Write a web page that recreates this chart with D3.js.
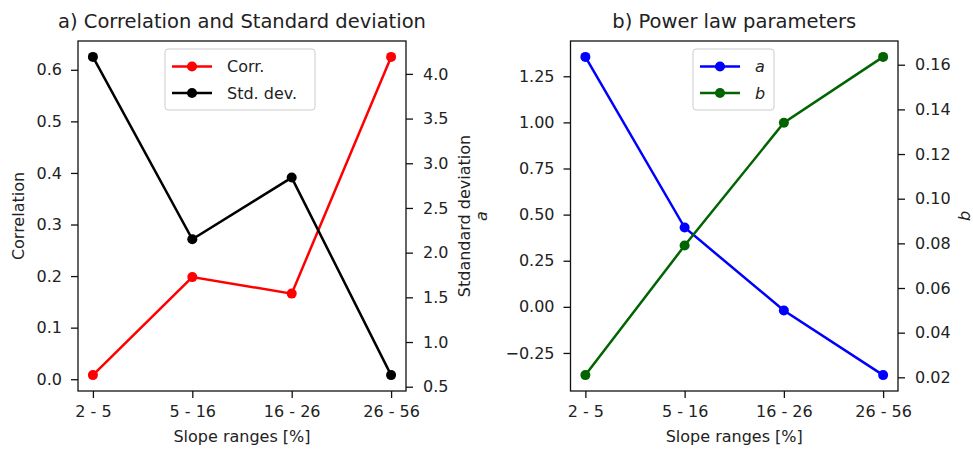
<!DOCTYPE html>
<html>
<head>
<meta charset="utf-8">
<script src="https://cdn.jsdelivr.net/npm/d3@7"></script>
<style>
  body { margin: 0; background: #fff; }
  svg text { font-family: "DejaVu Sans", sans-serif; fill: #222; }
</style>
</head>
<body>
<div id="vis"></div>
<script>
// data
const categories = ["2 - 5", "5 - 16", "16 - 26", "26 - 56"];
const corr = [0.008, 0.198, 0.166, 0.625];
const stdDev = [4.19, 2.15, 2.84, 0.63];
const aParam = [1.355, 0.43, -0.02, -0.37];
const bParam = [0.021, 0.079, 0.134, 0.1635];

const corrTicks = [0, 0.1, 0.2, 0.3, 0.4, 0.5, 0.6];
const stdTicks = [0.5, 1.0, 1.5, 2.0, 2.5, 3.0, 3.5, 4.0];
const aTicks = [-0.25, 0, 0.25, 0.5, 0.75, 1.0, 1.25];
const bTicks = [0.02, 0.04, 0.06, 0.08, 0.1, 0.12, 0.14, 0.16];

let svg = d3.select("#vis").append("svg").attr("width", 973).attr("height", 449);

// matplotlib style 5% margins
function padded(vals) {
  let lo = d3.min(vals), hi = d3.max(vals), p = (hi - lo) * 0.05;
  return [lo - p, hi + p];
}

const plotTop = 41, plotBottom = 391;

function panel(opt) {
  let x = d3.scalePoint().domain(d3.range(categories.length)).range([opt.left, opt.right]).padding(0.15);
  let yL = d3.scaleLinear().domain(padded(opt.s1)).range([plotBottom, plotTop]);
  let yR = d3.scaleLinear().domain(padded(opt.s2)).range([plotBottom, plotTop]);
  let g = svg.append("g");

  // axes
  let ax = g.append("g").attr("transform", "translate(0," + plotBottom + ")")
    .call(d3.axisBottom(x).tickSize(7).tickPadding(8).tickFormat((i) => categories[i]));
  let axL = g.append("g").attr("transform", "translate(" + opt.left + ",0)")
    .call(d3.axisLeft(yL).tickValues(opt.t1).tickSize(7).tickPadding(9).tickFormat(d3.format(opt.f1)));
  let axR = g.append("g").attr("transform", "translate(" + opt.right + ",0)")
    .call(d3.axisRight(yR).tickValues(opt.t2).tickSize(7).tickPadding(10).tickFormat(d3.format(opt.f2)));
  [ax, axL, axR].forEach((a) => {
    a.select(".domain").remove();
    a.selectAll("line").attr("stroke", "#111").attr("stroke-width", 1.3);
    a.selectAll("text").attr("font-size", 16).attr("fill", "#222");
  });
  g.append("rect").attr("x", opt.left).attr("y", plotTop)
    .attr("width", opt.right - opt.left).attr("height", plotBottom - plotTop)
    .attr("fill", "none").attr("stroke", "#111").attr("stroke-width", 1.3);

  // series
  let line = (s) => d3.line().x((d, i) => x(i)).y((d) => s(d));
  [[opt.s1, yL, opt.c1], [opt.s2, yR, opt.c2]].forEach(([vals, s, c]) => {
    g.append("path").datum(vals).attr("d", line(s))
      .attr("fill", "none").attr("stroke", c).attr("stroke-width", 2.5);
    g.selectAll(null).data(vals).enter().append("circle")
      .attr("cx", (d, i) => x(i)).attr("cy", (d) => s(d)).attr("r", 5).attr("fill", c);
  });

  // labels
  let mid = (opt.left + opt.right) / 2;
  g.append("text").attr("x", mid).attr("y", 28).attr("text-anchor", "middle")
    .attr("font-size", 19.5).text(opt.title);
  g.append("text").attr("x", mid).attr("y", 442).attr("text-anchor", "middle")
    .attr("font-size", 16).text("Slope ranges [%]");
  g.append("text").attr("transform", "translate(" + opt.l1x + ",216) rotate(-90)")
    .attr("text-anchor", "middle").attr("dominant-baseline", "central")
    .attr("font-size", 16).attr("font-style", opt.italic ? "italic" : null).text(opt.l1);
  g.append("text").attr("transform", "translate(" + opt.l2x + ",216) rotate(-90)")
    .attr("text-anchor", "middle").attr("dominant-baseline", "central")
    .attr("font-size", 16).attr("font-style", opt.italic ? "italic" : null).text(opt.l2);

  // legend
  let lg = g.append("g").attr("transform", "translate(" + opt.legX + ",49)");
  lg.append("rect").attr("width", opt.legW).attr("height", 61).attr("rx", 3)
    .attr("fill", "#fff").attr("fill-opacity", 0.8).attr("stroke", "#ccc");
  [[opt.n1, opt.c1], [opt.n2, opt.c2]].forEach(([n, c], k) => {
    let yy = 17.5 + k * 26.5;
    lg.append("line").attr("x1", 7).attr("x2", 47).attr("y1", yy).attr("y2", yy)
      .attr("stroke", c).attr("stroke-width", 2.5);
    lg.append("circle").attr("cx", 27).attr("cy", yy).attr("r", 5).attr("fill", c);
    lg.append("text").attr("x", 62).attr("y", yy).attr("dy", "0.35em")
      .attr("font-size", 16).attr("font-style", opt.italic ? "italic" : null).text(n);
  });
}

panel({
  left: 78, right: 406, title: "a) Correlation and Standard deviation",
  s1: corr, s2: stdDev, t1: corrTicks, t2: stdTicks, f1: ".1f", f2: ".1f",
  c1: "red", c2: "black", n1: "Corr.", n2: "Std. dev.",
  l1: "Correlation", l1x: 18, l2: "Stdandard deviation", l2x: 464,
  legX: 165, legW: 150, italic: false
});

panel({
  left: 570.5, right: 898, title: "b) Power law parameters",
  s1: aParam, s2: bParam, t1: aTicks, t2: bTicks, f1: ".2f", f2: ".2f",
  c1: "blue", c2: "darkgreen", n1: "a", n2: "b",
  l1: "a", l1x: 481, l2: "b", l2x: 964,
  legX: 693, legW: 81, italic: true
});
</script>
</body>
</html>
